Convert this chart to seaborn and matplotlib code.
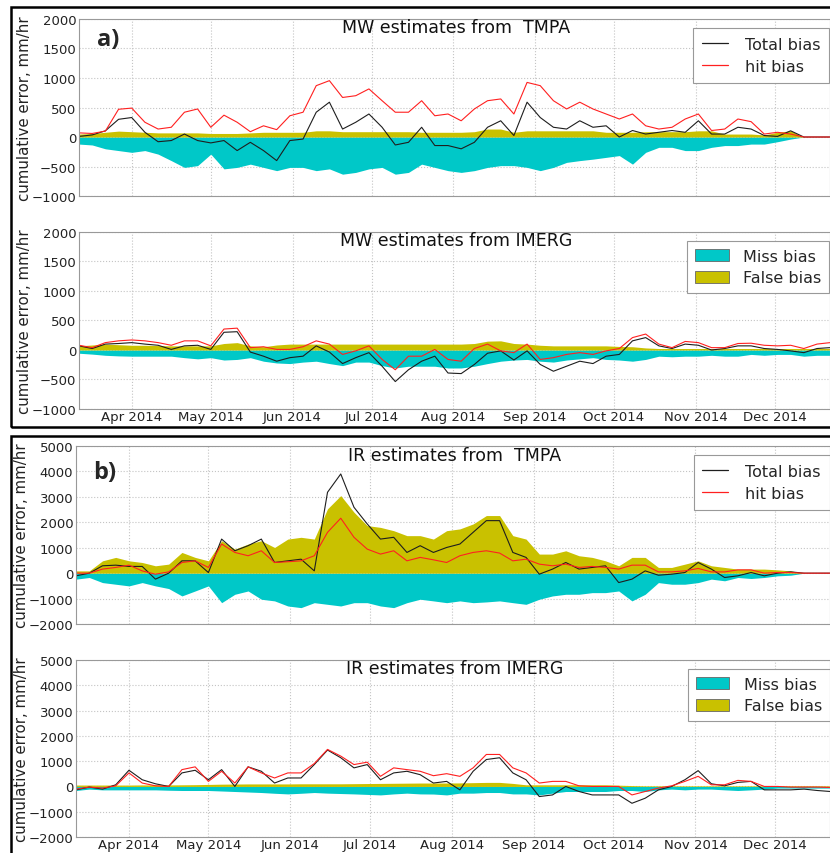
import matplotlib
matplotlib.use('Agg')
import matplotlib.pyplot as plt
import matplotlib.dates as mdates
from matplotlib.lines import Line2D
from matplotlib.patches import Patch, Rectangle
import pandas as pd
import seaborn as sns

# sample dates, every 5 days from mid March to late December 2014
dates = pd.date_range('2014-03-12', periods=58, freq='5D')

# a) MW estimates from TMPA
total_a1 = [10, 35, 105, 300, 330, 80, -80, -60, 50, -60, -100, -60, -230, -90, -230, -400, -60, -35, 420, 590,
            135, 250, 390, 165, -135, -90, 165, -145, -145, -200, -90, 165, 275, 25, 590, 330, 165, 135, 275, 165,
            190, 0, 110, 50, 80, 110, 80, 275, 50, 50, 165, 135, 25, 10, 105, 0, 0, 0]
hit_a1 = [70, 60, 100, 470, 490, 250, 135, 165, 420, 475, 165, 370, 250, 90, 190, 125, 360, 420, 870, 955,
          670, 700, 815, 615, 420, 420, 615, 360, 390, 275, 475, 615, 645, 390, 925, 870, 615, 475, 590, 475,
          390, 305, 390, 190, 135, 165, 305, 390, 110, 135, 305, 260, 50, 80, 50, 0, 0, 0]
miss_a1 = [-120, -135, -200, -230, -260, -230, -290, -400, -515, -485, -290, -540, -515, -460, -515, -570, -515,
           -515, -570, -540, -630, -600, -540, -515, -630, -600, -460, -515, -570, -600, -570, -515, -485, -485,
           -515, -570, -515, -430, -400, -375, -345, -315, -460, -260, -175, -175, -230, -230, -175, -145, -145,
           -120, -120, -80, -35, 0, 0, 0]
false_a1 = [50, 60, 80, 100, 90, 80, 70, 70, 70, 70, 60, 60, 60, 70, 80, 80, 80, 80, 105, 105, 90, 90, 90, 90,
            90, 90, 80, 80, 80, 80, 90, 135, 135, 80, 105, 105, 105, 105, 105, 105, 80, 80, 80, 90, 90, 90, 90,
            105, 105, 50, 50, 50, 35, 80, 105, 0, 0, 0]

# a) MW estimates from IMERG
total_a2 = [70, 25, 100, 110, 125, 100, 80, 10, 70, 80, 10, 300, 310, -35, -105, -190, -130, -105, 70, -35,
            -230, -130, -45, -275, -535, -335, -190, -105, -390, -400, -245, -55, -15, -170, -15, -245, -360,
            -275, -190, -230, -105, -75, 155, 210, 70, 25, 100, 80, 0, 25, 70, 70, 25, 10, -15, -45, 25, 40]
hit_a2 = [80, 40, 125, 155, 170, 155, 125, 80, 155, 155, 70, 355, 370, 40, 55, 10, 10, 55, 155, 100, -75, -15,
          70, -160, -335, -105, -105, 10, -160, -190, 25, 100, -15, -45, 100, -160, -130, -75, -45, -75, -15, 25,
          210, 270, 100, 40, 145, 125, 40, 40, 110, 115, 80, 70, 80, 25, 100, 125]
miss_a2 = [-55, -70, -90, -100, -105, -105, -105, -105, -130, -150, -130, -170, -160, -130, -190, -220, -230,
           -205, -190, -230, -265, -205, -205, -265, -305, -275, -275, -275, -305, -305, -275, -230, -190, -170,
           -160, -190, -205, -170, -150, -130, -160, -170, -190, -160, -105, -115, -105, -105, -90, -105, -105,
           -75, -90, -75, -75, -105, -90, -90]
false_a2 = [70, 85, 100, 90, 80, 80, 75, 70, 70, 70, 70, 110, 125, 70, 55, 85, 100, 100, 100, 100, 100, 100, 100,
            100, 100, 100, 100, 100, 100, 100, 110, 150, 155, 110, 100, 80, 70, 70, 70, 70, 70, 60, 55, 35, 25, 25,
            25, 25, 25, 25, 25, 25, 25, 25, 25, 25, 25, 25]

# b) IR estimates from TMPA
total_b1 = [-105, 0, 290, 315, 265, 265, -235, 0, 485, 485, 25, 1340, 880, 1080, 1340, 420, 485, 550, 90, 3180,
            3900, 2590, 1935, 1340, 1410, 815, 1080, 815, 1010, 1145, 1605, 2065, 2065, 815, 620, -40, 160, 420,
            160, 225, 290, -370, -235, 90, -80, -40, 25, 420, 160, -170, -105, 25, -105, 0, 50, 0, 0, 0]
hit_b1 = [0, 0, 160, 225, 315, 90, -40, 50, 420, 485, 225, 1145, 815, 685, 880, 420, 450, 485, 685, 1605, 2160,
          1410, 945, 750, 880, 485, 620, 525, 420, 685, 815, 880, 790, 485, 550, 355, 290, 355, 225, 265, 225,
          160, 315, 315, 50, 50, 90, 185, 50, 50, 130, 130, 0, 25, 25, 0, 0, 0]
miss_b1 = [-235, -170, -370, -435, -500, -370, -500, -605, -895, -700, -500, -1160, -830, -700, -1025, -1090,
           -1290, -1355, -1160, -1225, -1290, -1160, -1160, -1290, -1355, -1160, -1025, -1090, -1160, -1090,
           -1160, -1130, -1090, -1160, -1225, -1025, -895, -830, -830, -765, -765, -700, -1090, -830, -370, -435,
           -435, -370, -235, -300, -170, -210, -170, -105, -80, 0, 0, 0]
false_b1 = [90, 90, 485, 620, 485, 420, 290, 355, 815, 620, 485, 1275, 945, 1145, 1275, 1010, 1340, 1410, 1340,
            2530, 3050, 2395, 1870, 1800, 1670, 1475, 1475, 1340, 1670, 1740, 1935, 2265, 2265, 1475, 1340, 750,
            750, 880, 685, 620, 485, 290, 620, 620, 225, 225, 355, 485, 290, 225, 160, 160, 160, 130, 90, 0, 0, 0]

# b) IR estimates from IMERG
total_b2 = [-135, -25, -105, 65, 640, 265, 105, 0, 535, 640, 265, 665, 0, 775, 600, 135, 335, 335, 865, 1440,
            1135, 735, 865, 265, 535, 600, 465, 135, 200, -135, 600, 1065, 1135, 535, 265, -400, -335, 0, -200,
            -335, -335, -335, -665, -465, -135, 0, 265, 625, 105, 25, 160, 200, -135, -135, -135, -105, -160, -200]
hit_b2 = [-105, -25, -65, 25, 535, 135, 25, 0, 665, 775, 200, 600, 135, 775, 535, 335, 535, 535, 905, 1465, 1200,
          865, 960, 400, 735, 665, 600, 425, 505, 400, 735, 1265, 1265, 735, 535, 135, 200, 200, 25, 0, 0, 0,
          -335, -200, -65, 25, 200, 400, 65, 65, 240, 200, 0, 0, -25, -25, -25, -40]
miss_b2 = [-160, -105, -135, -135, -135, -135, -135, -150, -160, -160, -160, -180, -200, -220, -240, -270, -295,
           -270, -240, -265, -280, -295, -315, -335, -295, -265, -295, -300, -335, -265, -265, -240, -240, -295,
           -295, -335, -265, -200, -200, -200, -200, -160, -160, -200, -135, -105, -135, -105, -105, -135, -160,
           -135, -105, -65, -65, -65, -65, -65]
false_b2 = [55, 55, 55, 55, 55, 60, 60, 60, 65, 70, 80, 90, 95, 100, 100, 100, 100, 105, 105, 105, 105, 110, 115,
            120, 125, 130, 135, 135, 135, 140, 150, 160, 160, 120, 65, 65, 65, 65, 65, 65, 65, 50, 35, 25, 25, 25,
            25, 25, 25, 25, 25, 25, 25, 25, 25, 25, 25, 25]

CYAN = '#00c8c8'
OLIVE = '#c9c100'

sns.set_style('whitegrid', {'grid.linestyle': ':', 'grid.color': '#c4c4c4', 'axes.edgecolor': '#999999'})
plt.rcParams['font.family'] = ['DejaVu Sans']

fig = plt.figure(figsize=(8.3, 8.54), dpi=100)

panels = [
    ([0.0952, 0.7693, 0.905, 0.2073], total_a1, hit_a1, miss_a1, false_a1, 'MW estimates from  TMPA', 'lines', 'a'),
    ([0.0952, 0.5199, 0.905, 0.2073], total_a2, hit_a2, miss_a2, false_a2, 'MW estimates from IMERG', 'fills', 'a'),
    ([0.0916, 0.2681, 0.909, 0.2085], total_b1, hit_b1, miss_b1, false_b1, 'IR estimates from  TMPA', 'lines', 'b'),
    ([0.0916, 0.0187, 0.909, 0.2073], total_b2, hit_b2, miss_b2, false_b2, 'IR estimates from IMERG', 'fills', 'b'),
]

for i, (rect, total, hit, miss, false, title, leg, grp) in enumerate(panels):
    ax = fig.add_axes(rect)
    ax.fill_between(dates, miss, 0, color=CYAN, lw=0)
    ax.fill_between(dates, 0, false, color=OLIVE, lw=0)
    sns.lineplot(x=dates, y=total, ax=ax, color='#1e1e1e', lw=0.8, legend=False)
    sns.lineplot(x=dates, y=hit, ax=ax, color='#ff2020', lw=0.8, legend=False)

    ax.set_xlim(pd.Timestamp('2014-03-12'), pd.Timestamp('2014-12-22'))
    if grp == 'a':
        ax.set_ylim(-1000, 2000)
        ax.set_yticks(range(-1000, 2001, 500))
    else:
        ax.set_ylim(-2000, 5000)
        ax.set_yticks(range(-2000, 5001, 1000))
    ax.xaxis.set_major_locator(mdates.MonthLocator())
    ax.xaxis.set_major_formatter(mdates.DateFormatter('%b %Y'))
    ax.tick_params(labelsize=9.5, length=0, colors='#222222')
    ax.tick_params(axis='x', pad=0.5)
    ax.tick_params(axis='y', pad=2)
    if i % 2 == 0:
        ax.tick_params(labelbottom=False)
    ax.set_ylabel('cumulative error, mm/hr', fontsize=10.8, color='#222222')
    ax.yaxis.set_label_coords(-0.062, 0.5)
    ax.set_xlabel('')
    for s in ax.spines.values():
        s.set_linewidth(0.8)

    ax.text(0.502, 0.952, title, transform=ax.transAxes, ha='center', va='center', fontsize=12.5, color='#111111')

    if leg == 'lines':
        handles = [Line2D([], [], color='#1e1e1e', lw=0.9, label='Total bias'),
                   Line2D([], [], color='#ff2020', lw=0.9, label='hit bias')]
        lg = ax.legend(handles=handles, loc='upper right', bbox_to_anchor=(0.999, 0.95), borderaxespad=0,
                       fontsize=11.5, fancybox=False, framealpha=1, handlelength=1.6, handletextpad=1.1,
                       borderpad=0.55, labelspacing=0.45)
    else:
        handles = [Patch(facecolor=CYAN, edgecolor='#666666', lw=0.6, label='Miss bias'),
                   Patch(facecolor=OLIVE, edgecolor='#666666', lw=0.6, label='False bias')]
        lg = ax.legend(handles=handles, loc='upper right', bbox_to_anchor=(0.999, 0.95), borderaxespad=0,
                       fontsize=11.5, fancybox=False, framealpha=1, handlelength=2.1, handleheight=0.8,
                       handletextpad=0.9, borderpad=0.5, labelspacing=0.4)
    lg.get_frame().set_edgecolor('#999999')
    lg.get_frame().set_linewidth(0.8)

    if i == 0:
        ax.text(0.024, 0.887, 'a)', transform=ax.transAxes, fontsize=17, fontweight='bold',
                family='Open Sans', va='center', ha='left')
    if i == 2:
        ax.text(0.023, 0.854, 'b)', transform=ax.transAxes, fontsize=17, fontweight='bold',
                family='Open Sans', va='center', ha='left')

# boxes around the two groups
fig.patches.append(Rectangle((11 / 830, 1 - 428 / 854), 1.2, 420 / 854, transform=fig.transFigure,
                             fill=False, edgecolor='black', lw=1.8))
fig.patches.append(Rectangle((11 / 830, -0.1), 1.2, 1 - 437 / 854 + 0.1, transform=fig.transFigure,
                             fill=False, edgecolor='black', lw=1.8))

fig.savefig('out.png', dpi=100)
